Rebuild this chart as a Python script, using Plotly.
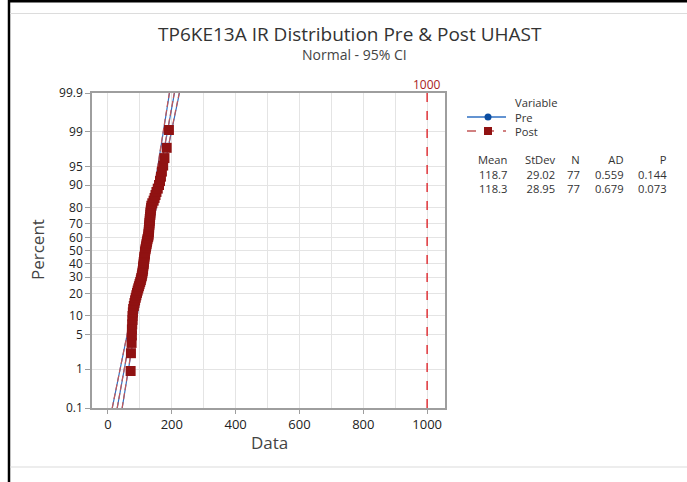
import math
from statistics import NormalDist
import plotly.graph_objects as go

# ---------------- data ----------------
title_text = "TP6KE13A IR Distribution Pre & Post UHAST"
subtitle_text = "Normal - 95% CI"
legend_title = "Variable"
series_names = ["Pre", "Post"]

pre_values = [70, 73, 74, 75, 76, 77, 78, 79, 80, 82, 83, 85, 86, 88, 90,
              92, 94, 96, 98, 100, 102, 104, 105, 107,
              108, 109, 109, 110, 111, 111, 112, 113, 113, 114, 115, 115, 116, 117, 118,
              119, 120, 121, 122, 123, 124, 125, 126,
              127, 127, 128, 128, 129, 129, 130, 130, 131, 131, 132, 133, 134, 135, 136, 137,
              140, 144, 147, 150,
              153, 157, 160, 163,
              166, 169, 173, 178,
              185, 192]
post_values = [71, 72,
               74, 75, 75, 76, 77, 77, 78,
               79, 81, 83, 85, 87, 89,
               91, 93, 95, 97, 99, 101, 103, 104, 106,
               107, 108, 109, 110, 110, 111, 112, 112, 113, 114, 114, 115, 116, 116, 117,
               118, 119, 120, 121, 122, 123, 124, 126,
               127, 127, 128, 128, 129, 129, 130, 130, 131, 131, 132, 133, 133, 134, 135, 136,
               139, 143, 146, 149,
               152, 156, 160, 163,
               166, 169, 173, 177,
               184, 191]

means = [118.7, 118.3]
stdevs = [29.02, 28.95]
ns = [77, 77]
ads = [0.559, 0.679]
pvals = [0.144, 0.073]
stat_headers = ["Mean", "StDev", "N", "AD", "P"]

pct_ticks = [0.1, 1, 5, 10, 20, 30, 40, 50, 60, 70, 80, 90, 95, 99, 99.9]
pct_labels = ["0.1", "1", "5", "10", "20", "30", "40", "50", "60", "70", "80", "90", "95", "99", "99.9"]
x_ticks = [0, 200, 400, 600, 800, 1000]
x_labels = ["0", "200", "400", "600", "800", "1000"]
ref_value = 1000

# ---------------- styles ----------------
W, H = 687, 482
L, R, T, B = 92, 445, 93, 408
FONT = "Open Sans"
line_colors = ["#2F6FC2", "#C25858"]
line_dashes = ["solid", "6px,3px"]
marker_colors = ["#0B4EA2", "#901212"]
marker_symbols = ["circle", "square"]
marker_sizes = [8, 10]


def px(xp):
    return (xp - L) / (R - L)


def py(yp):
    return (B - yp) / (B - T)


ND = NormalDist()
z_lo = ND.inv_cdf(0.001)
z_hi = ND.inv_cdf(0.999)

fig = go.Figure()

all_values = [pre_values, post_values]

# fitted lines and CI
steps = 80
zs = [z_lo + (z_hi - z_lo) * k / steps for k in range(steps + 1)]
for i, name in enumerate(series_names):
    mu, sd, n = means[i], stdevs[i], ns[i]
    fit = [mu + z * sd for z in zs]
    half = [1.96 * sd * math.sqrt((1 + z * z / 2) / n) for z in zs]
    for xs in (fit, [f - h for f, h in zip(fit, half)], [f + h for f, h in zip(fit, half)]):
        fig.add_trace(go.Scatter(x=xs, y=zs, mode="lines",
                                 line=dict(color=line_colors[i], width=1.2, dash=line_dashes[i]),
                                 showlegend=False, hoverinfo="skip"))

# points
for i, name in enumerate(series_names):
    vals = sorted(all_values[i])
    n = len(vals)
    zpts = [ND.inv_cdf((k + 1 - 0.3) / (n + 0.4)) for k in range(n)]
    fig.add_trace(go.Scatter(x=vals, y=zpts, mode="markers", name=name,
                             marker=dict(color=marker_colors[i], symbol=marker_symbols[i],
                                         size=marker_sizes[i], line=dict(width=0)),
                             showlegend=False))

shapes = []
# reference line
shapes.append(dict(type="line", xref="x", yref="paper", x0=ref_value, x1=ref_value, y0=0, y1=1,
                   line=dict(color="#E0353A", width=1.5, dash="dash")))
# frame decorations
shapes.append(dict(type="line", xref="paper", yref="paper", x0=px(8), x1=px(687), y0=py(1), y1=py(1),
                   line=dict(color="#000000", width=3)))
shapes.append(dict(type="line", xref="paper", yref="paper", x0=px(9), x1=px(9), y0=py(0), y1=py(482),
                   line=dict(color="#000000", width=2.5)))
shapes.append(dict(type="line", xref="paper", yref="paper", x0=px(10), x1=px(687), y0=py(13.5), y1=py(13.5),
                   line=dict(color="#DCDCDC", width=1.2)))
shapes.append(dict(type="line", xref="paper", yref="paper", x0=px(10), x1=px(687), y0=py(467), y1=py(467),
                   line=dict(color="#DCDCDC", width=1.2)))

# legend samples
leg_y = [117, 131]
for i in range(2):
    shapes.append(dict(type="line", xref="paper", yref="paper", x0=px(467), x1=px(506),
                       y0=py(leg_y[i]), y1=py(leg_y[i]),
                       line=dict(color=line_colors[i], width=1.3,
                                 dash="solid" if i == 0 else "dash")))
shapes.append(dict(type="circle", xref="paper", yref="paper", x0=px(484.5), x1=px(491.5),
                   y0=py(120.5), y1=py(113.5), fillcolor=marker_colors[0], line=dict(width=0)))
shapes.append(dict(type="rect", xref="paper", yref="paper", x0=px(484), x1=px(492),
                   y0=py(135), y1=py(127), fillcolor=marker_colors[1], line=dict(width=0)))

ann = []
ann.append(dict(text=title_text, x=px(350), y=py(34), xref="paper", yref="paper",
                showarrow=False, font=dict(family=FONT, size=19, color="#333333"),
                xanchor="center", yanchor="middle"))
ann.append(dict(text=subtitle_text, x=px(354), y=py(55), xref="paper", yref="paper",
                showarrow=False, font=dict(family=FONT, size=14, color="#444444"),
                xanchor="center", yanchor="middle"))
ann.append(dict(text=str(ref_value), x=ref_value, y=py(84), xref="x", yref="paper",
                showarrow=False, font=dict(family=FONT, size=12, color="#A82222"),
                xanchor="center", yanchor="middle"))
ann.append(dict(text="Percent", x=px(37), y=py(250), xref="paper", yref="paper", textangle=-90,
                showarrow=False, font=dict(family=FONT, size=17, color="#444444"),
                xanchor="center", yanchor="middle"))
ann.append(dict(text="Data", x=px(269), y=py(442), xref="paper", yref="paper",
                showarrow=False, font=dict(family=FONT, size=17, color="#444444"),
                xanchor="center", yanchor="middle"))
# legend text block (one multi-line text)
ann.append(dict(text="<br>".join([legend_title] + series_names), x=px(513), y=py(117),
                xref="paper", yref="paper", showarrow=False, align="left",
                font=dict(family=FONT, size=11.2, color="#333333"),
                xanchor="left", yanchor="middle"))

# statistics table: one right-aligned multi-line text per column
col_right = [509, 558, 582, 626, 669]
for c, h in enumerate(stat_headers):
    cells = [h]
    for i in range(2):
        vals = [f"{means[i]:.1f}", f"{stdevs[i]:.2f}", f"{ns[i]}", f"{ads[i]:.3f}", f"{pvals[i]:.3f}"]
        cells.append(vals[c])
    ann.append(dict(text="<br>".join(cells), x=px(col_right[c]), y=py(174), xref="paper", yref="paper",
                    showarrow=False, align="right", font=dict(family=FONT, size=11.2, color="#333333"),
                    xanchor="right", yanchor="middle"))

fig.update_layout(
    width=W, height=H,
    margin=dict(l=L, r=W - R, t=T, b=H - B, pad=0),
    paper_bgcolor="white", plot_bgcolor="white",
    showlegend=False,
    shapes=shapes, annotations=ann,
    font=dict(family=FONT, color="#222222"),
    xaxis=dict(range=[-50, 1056], tickvals=x_ticks, ticktext=x_labels,
               showgrid=True, gridcolor="#E4E4E4", gridwidth=1,
               minor=dict(dtick=100, tick0=0, showgrid=True, gridcolor="#E4E4E4", ticks=""),
               zeroline=False, showline=True, linecolor="#9E9E9E", linewidth=1.5, mirror=True,
               ticks="outside", ticklen=4, tickcolor="#9E9E9E",
               tickfont=dict(family=FONT, size=13, color="#222222")),
    yaxis=dict(range=[z_lo, z_hi], tickvals=[ND.inv_cdf(p / 100) for p in pct_ticks], ticktext=pct_labels,
               showgrid=True, gridcolor="#E4E4E4", gridwidth=1,
               zeroline=False, showline=True, linecolor="#9E9E9E", linewidth=1.5, mirror=True,
               ticks="outside", ticklen=5, tickcolor="#9E9E9E",
               tickfont=dict(family=FONT, size=12, color="#222222")),
)

fig.write_html("out.html", config={"displayModeBar": False},
               post_script="document.body.style.margin='0';document.body.style.overflow='hidden';")
